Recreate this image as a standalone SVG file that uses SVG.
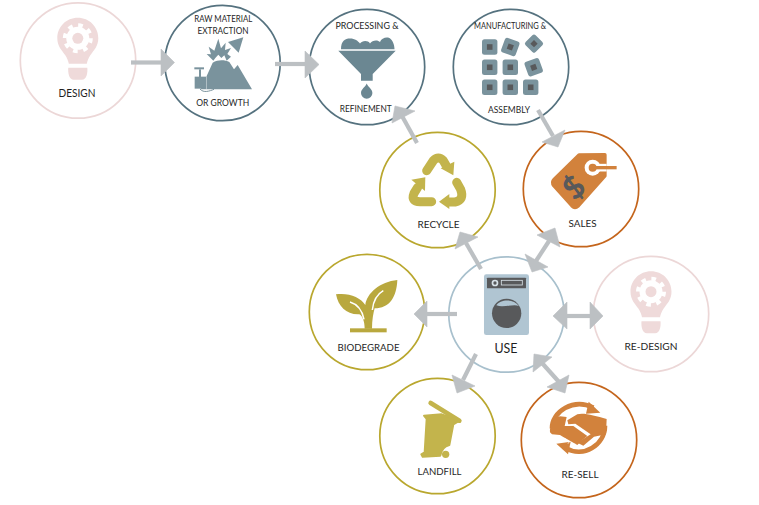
<svg xmlns="http://www.w3.org/2000/svg" xmlns:xlink="http://www.w3.org/1999/xlink" width="759" height="505" viewBox="0 0 759 505">
<style>
rect.bg{fill:#fff}
.ring{fill:#fff;stroke-width:1.7}
.pink{stroke:#ecd7d7}.slate{stroke:#55727f}.olive{stroke:#b9a72e}.rust{stroke:#c4651c}.blue{stroke:#a8c0cd}
text{font-family:"Lato","Liberation Sans",sans-serif;font-size:10.4px;fill:#1f1f1f;text-anchor:middle}
.cl line{stroke:#bcc0c3;stroke-width:4.2}
.cl polygon{fill:#bcc0c3;stroke:#bcc0c3;stroke-width:.6;stroke-linejoin:round}
.sl{fill:#7a939d}.dk{fill:#58595b}.ol{fill:#c3b44c}.or{fill:#d2823c}.lb{fill:#b0c5d2}
</style>
<defs>
<g id="bulb">
<path fill="#efdada" d="M0,-20.5C11.5,-20.5 20.5,-11.5 20.5,0C20.5,8 16,12 12.5,17C10.5,20 9.5,23 9,25.5L-9,25.5C-9.5,23 -10.5,20 -12.5,17C-16,12 -20.5,8 -20.5,0C-20.5,-11.5 -11.5,-20.5 0,-20.5Z"/>
<path fill="#efdada" d="M-9.5,29.5L9.5,29.5C10,34 9,41.5 4,41.5L-4,41.5C-9,41.5 -10,34 -9.5,29.5Z"/>
<circle r="11.5" fill="#fff"/>
<circle r="13" fill="none" stroke="#fff" stroke-width="4" stroke-dasharray="4.6 5.61"/>
<circle r="5.5" fill="#efdada"/>
</g>
<g id="chip">
<rect class="sl" x="-7.7" y="-7.7" width="15.4" height="15.4" rx="2.5"/>
<rect class="dk" x="-2.8" y="-2.8" width="5.6" height="5.6"/>
</g>
</defs>
<rect class="bg" width="759" height="505"/>

<g id="node-design">
<circle class="ring pink" cx="78" cy="60.5" r="57.7"/>
<use xlink:href="#bulb" href="#bulb" transform="translate(77.8,38.3)"/>
<text x="77" y="96.5" style="font-size:10.8px" textLength="37" lengthAdjust="spacingAndGlyphs">DESIGN</text>
</g>

<g id="node-raw-material">
<circle class="ring slate" cx="222.5" cy="63" r="57.7"/>
<text x="223.3" y="22.3" style="font-size:9px" textLength="58" lengthAdjust="spacingAndGlyphs">RAW MATERIAL</text>
<text x="223" y="33.7" style="font-size:9px" textLength="51" lengthAdjust="spacingAndGlyphs">EXTRACTION</text>
<g transform="translate(190,30) scale(.3333)">
<path class="sl" d="M32,178L68,98C85,88 105,90 118,96L132,118L143,105L186,178Z"/>
<path class="sl" d="M70,92L50,72L63,73L56,50L73,62L85,26L93,55L107,38L105,60L123,54L112,72L123,80L110,92L103,76L94,84L85,74L76,84Z"/>
<path class="sl" d="M114,36L160,22L146,68L132,54Z"/>
<path fill="none" stroke="#fff" stroke-width="1.5" d="M49,140L49,178"/>
<rect class="sl" x="14" y="140" width="34" height="36"/>
<rect class="sl" x="27" y="118" width="6" height="24"/>
<rect class="sl" x="13" y="112" width="29" height="6"/>
<path fill="none" stroke="#7a939d" stroke-width="3" d="M30,177C40,190 60,183 72,178"/>
</g>
<text x="222.7" y="105.7" style="font-size:10px" textLength="53" lengthAdjust="spacingAndGlyphs">OR GROWTH</text>
</g>

<g id="node-processing">
<circle class="ring slate" cx="367" cy="67" r="57.7"/>
<text x="367" y="29" style="font-size:9.6px" textLength="63" lengthAdjust="spacingAndGlyphs">PROCESSING &amp;</text>
<path fill="#6b8792" d="M341,49.3C341,41 345,38.5 350,38.5C355,38.5 358,41 360,43.5C362,40.5 368,40 370,43.5C372,40 378,39.5 380,42C381,38.5 385,37 388,37.5C392,38.5 394.5,44 394.5,49.3Z"/>
<path fill="#6b8792" d="M338.3,50.8L395.7,50.8L372.7,74L372.7,80.7L361,80.7L361,74Z"/>
<path fill="#6b8792" d="M366.7,83.5C368,87 372.4,89 372.4,93A5.7,5.7 0 0 1 361,93C361,89 365.4,87 366.7,83.5Z"/>
<text x="365.7" y="111.7" style="font-size:9.6px" textLength="52" lengthAdjust="spacingAndGlyphs">REFINEMENT</text>
</g>

<g id="node-manufacturing">
<circle class="ring slate" cx="511" cy="67" r="57.7"/>
<text x="510" y="29" style="font-size:8.6px" textLength="72" lengthAdjust="spacingAndGlyphs">MANUFACTURING &amp;</text>
<use xlink:href="#chip" href="#chip" transform="translate(489.7,47)"/>
<use xlink:href="#chip" href="#chip" transform="translate(510.3,47) rotate(20)"/>
<use xlink:href="#chip" href="#chip" transform="translate(534,43.7) rotate(45) scale(.92)"/>
<use xlink:href="#chip" href="#chip" transform="translate(489.7,67.3)"/>
<use xlink:href="#chip" href="#chip" transform="translate(510.3,67.3)"/>
<use xlink:href="#chip" href="#chip" transform="translate(533.7,67.3) rotate(-20)"/>
<use xlink:href="#chip" href="#chip" transform="translate(489.7,87.3)"/>
<use xlink:href="#chip" href="#chip" transform="translate(510.3,87.3)"/>
<use xlink:href="#chip" href="#chip" transform="translate(530.7,87.3)"/>
<text x="509" y="113" style="font-size:9.6px" textLength="42" lengthAdjust="spacingAndGlyphs">ASSEMBLY</text>
</g>

<g id="node-recycle">
<circle class="ring olive" cx="437.5" cy="190" r="57.7"/>
<g transform="translate(370,120) scale(.3333)">
<path fill="none" stroke="#c3b44c" stroke-width="27" stroke-linecap="round" d="M170,152L190,122Q205,106 220,122L228,136"/>
<polygon class="ol" points="212,145 253,125 250,166"/>
<path fill="none" stroke="#c3b44c" stroke-width="27" stroke-linecap="round" d="M260,187L272,208Q284,240 255,246L238,246"/>
<polygon class="ol" points="238,222 207,245 238,267"/>
<path fill="none" stroke="#c3b44c" stroke-width="27" stroke-linecap="round" d="M185,245L150,245Q122,245 132,220L143,202"/>
<polygon class="ol" points="124,179 166,172 165,213"/>
</g>
<text x="438.5" y="227.7" textLength="42" lengthAdjust="spacingAndGlyphs">RECYCLE</text>
</g>

<g id="node-sales">
<circle class="ring rust" cx="581" cy="189" r="57.7"/>
<g transform="translate(370,120) scale(.3333)">
<path class="or" stroke="#d2823c" stroke-width="10" stroke-linejoin="round" d="M627,105L705,104L705,168L625,258C618,264 612,264 606,258L552,198C546,190 546,184 552,178Z"/>
<path fill="none" stroke="#fff" stroke-width="23" d="M668,143L710,143"/>
<circle cx="668" cy="143" r="24" fill="#fff"/>
<circle cx="668" cy="143" r="12" class="or"/>
<path fill="none" stroke="#d2823c" stroke-width="10" d="M668,143L740,143"/>
<text x="0" y="32" transform="translate(612,203) rotate(-42)" style="font-size:92px;font-weight:900;fill:#58595b">$</text>
</g>
<text x="582.5" y="227.3" textLength="28" lengthAdjust="spacingAndGlyphs">SALES</text>
</g>

<g id="node-biodegrade">
<circle class="ring olive" cx="367" cy="312" r="57.7"/>
<g transform="translate(330,280) scale(.3333)">
<path fill="#b9a83e" d="M18,43C55,37 92,52 106,75C110,40 150,5 202,0C200,52 178,85 134,85C130,100 126,120 126,146L104,146C104,125 98,108 88,103C50,105 25,80 18,43Z"/>
<rect x="60" y="145" width="110" height="12" fill="#b9a83e"/>
<path fill="none" stroke="#fff" stroke-width="4.5" d="M60,66C80,72 96,88 102,118M160,32C142,42 130,62 127,90"/>
</g>
<text x="368.5" y="351" textLength="62" lengthAdjust="spacingAndGlyphs">BIODEGRADE</text>
</g>

<g id="node-use">
<circle class="ring blue" cx="506.5" cy="314.5" r="57.7"/>
<g transform="translate(300,240) scale(.3333)">
<rect class="lb" x="552" y="103" width="135" height="182" rx="7"/>
<rect class="dk" x="561" y="113" width="117" height="32" rx="2"/>
<circle cx="585" cy="129" r="10" fill="#d8e2e8"/>
<circle cx="585" cy="129" r="5" fill="#58595b"/>
<rect x="604" y="121" width="63" height="14" fill="none" stroke="#d8e2e8" stroke-width="2.5"/>
<circle class="dk" cx="620" cy="220" r="44"/>
<path class="lb" d="M589,196C600,178 640,174 657,198C640,190 610,205 589,196Z"/>
</g>
<text x="506" y="353.3" style="font-size:12.4px">USE</text>
</g>

<g id="node-redesign">
<circle class="ring pink" cx="651" cy="314" r="57.7"/>
<use xlink:href="#bulb" href="#bulb" transform="translate(651,291.7)"/>
<text x="651" y="350" textLength="53" lengthAdjust="spacingAndGlyphs">RE-DESIGN</text>
</g>

<g id="node-landfill">
<circle class="ring olive" cx="437.5" cy="436" r="57.7"/>
<g transform="translate(410,395) scale(.3333)">
<path fill="none" stroke="#c3b44c" stroke-width="14" stroke-linecap="round" d="M62,24L148,77"/>
<path class="ol" stroke="#c3b44c" stroke-width="6" stroke-linejoin="round" d="M42,62L95,58L150,76L130,88L118,150C102,154 93,168 91,182L38,185L34,178L44,172L50,72Z"/>
<circle class="ol" cx="107" cy="178" r="11"/>
</g>
<text x="439.5" y="475" textLength="44" lengthAdjust="spacingAndGlyphs">LANDFILL</text>
</g>

<g id="node-resell">
<circle class="ring rust" cx="579" cy="440" r="57.7"/>
<g transform="translate(540,395) scale(.3333)">
<path fill="none" stroke="#d2823c" stroke-width="14" d="M36,100C35,50 100,8 160,38"/>
<polygon class="or" points="146,20 181,53 138,56"/>
<path fill="none" stroke="#d2823c" stroke-width="14" d="M195,92C195,150 130,190 78,160"/>
<polygon class="or" points="49,146 92,140 84,178"/>
<path class="or" d="M82,76L112,58C130,52 165,62 200,72L198,118L162,125L130,152L112,143L152,118L106,86L85,88Z"/>
<path class="or" d="M30,112C29,95 36,78 46,68L60,64L80,66L74,93L100,93L142,123L128,134L112,150L66,124L60,120L36,118Z"/>
<path fill="none" stroke="#fff" stroke-width="2.5" d="M76,130L70,138M90,138L84,146M104,146L98,154"/>
</g>
<text x="580" y="478.3" textLength="37" lengthAdjust="spacingAndGlyphs">RE-SELL</text>
</g>

<g id="connectors" class="cl">
<line x1="131" y1="62.5" x2="162" y2="62.5"/><polygon points="161,49 174.5,62.5 161,76"/>
<line x1="275" y1="64" x2="306" y2="64"/><polygon points="305,51 319,64.5 305,78"/>
<line x1="417" y1="143" x2="402" y2="116"/><polygon points="395,106 392,123 415,111"/>
<line x1="538" y1="110" x2="553" y2="136"/><polygon points="565,130 542,142 558,147"/>
<line x1="481" y1="269" x2="466" y2="243"/><polygon points="460,232 455,249 478,237"/>
<line x1="536" y1="261" x2="549" y2="241"/><polygon points="555,228 537,235 560,247"/><polygon points="525,254 548,267 532,272"/>
<line x1="457" y1="314" x2="426" y2="314"/><polygon points="414,314 427,301 427,327"/>
<line x1="566" y1="316" x2="591" y2="316"/><polygon points="553,316 567,302 567,329"/><polygon points="590,302 603,316 590,329"/>
<line x1="476" y1="354" x2="463" y2="380"/><polygon points="457,393 452,375 475,386"/>
<line x1="542" y1="363" x2="559" y2="382"/><polygon points="534,354 533,372 552,357"/><polygon points="565,393 547,387 569,375"/>
</g>
</svg>
